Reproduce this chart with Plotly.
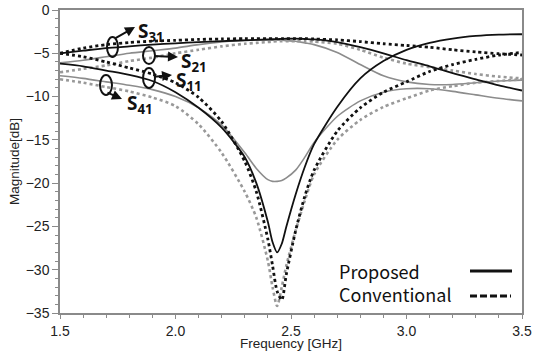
import plotly.graph_objects as go

# ---- data (frequency in GHz, magnitude in dB) ----
freq = [1.5, 1.6, 1.7, 1.8, 1.9, 2.0, 2.1, 2.2, 2.3, 2.35, 2.4, 2.42, 2.44, 2.46, 2.48, 2.52, 2.56,
        2.6, 2.7, 2.8, 2.9, 3.0, 3.1, 3.2, 3.3, 3.4, 3.5]

s11_prop = [-6.2, -6.5, -7.0, -7.5, -8.2, -9.5, -11.3, -13.6, -17.0, -20.0, -24.5, -26.8, -28.0, -27.0,
            -25.0, -21.3, -18.1, -15.5, -11.2, -7.9, -5.9, -4.6, -3.8, -3.3, -3.0, -2.85, -2.8]
s11_conv = [-5.0, -5.4, -6.0, -6.7, -7.4, -8.4, -10.1, -12.9, -17.5, -21.0, -26.5, -29.5, -32.5, -33.5,
            -30.5, -25.5, -21.5, -18.5, -14.0, -11.3, -9.5, -8.3, -7.1, -6.3, -5.7, -5.2, -4.9]
s41_prop = [-7.6, -7.9, -8.3, -8.7, -9.2, -10.0, -11.3, -13.3, -16.5, -18.3, -19.6, -19.8, -19.8, -19.7,
            -19.4, -18.5, -17.0, -15.3, -12.3, -10.5, -9.5, -9.1, -9.1, -9.4, -9.8, -10.2, -10.5]
s41_conv = [-8.0, -8.4, -8.9, -9.4, -10.1, -11.1, -13.2, -16.5, -21.0, -24.0, -29.0, -32.0, -34.2, -32.0,
            -29.5, -25.5, -22.0, -19.0, -15.0, -12.7, -11.2, -10.2, -9.3, -8.8, -8.4, -8.2, -8.0]
s21_prop = [-6.1, -5.8, -5.4, -5.0, -4.7, -4.4, -4.0, -3.7, -3.5, -3.5, -3.5, -3.5, -3.5, -3.5,
            -3.55, -3.6, -3.8, -4.0, -4.9, -6.3, -7.6, -8.3, -8.6, -8.6, -8.4, -8.2, -8.1]
s21_conv = [-7.2, -6.8, -6.4, -5.9, -5.5, -5.0, -4.6, -4.2, -3.9, -3.8, -3.7, -3.65, -3.6, -3.6,
            -3.6, -3.6, -3.6, -3.65, -3.9, -4.6, -5.5, -6.2, -6.6, -7.0, -7.4, -7.7, -7.9]
s31_prop = [-5.0, -4.7, -4.4, -4.2, -4.0, -3.85, -3.7, -3.6, -3.5, -3.45, -3.4, -3.38, -3.36, -3.34,
            -3.32, -3.3, -3.35, -3.4, -3.7, -4.3, -5.0, -5.8, -6.5, -7.3, -8.0, -8.7, -9.3]
s31_conv = [-5.0, -4.4, -4.0, -3.75, -3.6, -3.5, -3.4, -3.35, -3.3, -3.3, -3.3, -3.3, -3.3, -3.3,
            -3.3, -3.3, -3.3, -3.35, -3.45, -3.65, -3.9, -4.1, -4.3, -4.6, -4.85, -5.05, -5.2]

x_ticks = [1.5, 2.0, 2.5, 3.0, 3.5]
x_ticktext = ["1.5", "2.0", "2.5", "3.0", "3.5"]
y_ticks = [0, -5, -10, -15, -20, -25, -30, -35]

BLACK = "#111111"
GREY = "#8c8c8c"

series = [
    (s21_prop, GREY, "solid", 1.6),
    (s41_prop, GREY, "solid", 1.6),
    (s21_conv, "#999999", "dot", 2.6),
    (s41_conv, "#999999", "dot", 2.6),
    (s31_prop, BLACK, "solid", 1.8),
    (s11_prop, BLACK, "solid", 1.8),
    (s31_conv, BLACK, "dot", 2.8),
    (s11_conv, BLACK, "dot", 2.8),
]

fig = go.Figure()
for ys, col, dash, w in series:
    fig.add_trace(go.Scatter(x=freq, y=ys, mode="lines",
                             line=dict(color=col, dash=dash, width=w, shape="spline", smoothing=0.7),
                             showlegend=False, hoverinfo="skip"))

tickfont = dict(family="Liberation Sans, Arial, sans-serif", size=14, color="#222")
fig.update_layout(
    width=533, height=351,
    margin=dict(l=60, r=11, t=10, b=38),
    paper_bgcolor="white", plot_bgcolor="white",
    xaxis=dict(range=[1.5, 3.5], tickvals=x_ticks, ticktext=x_ticktext, automargin=False,
               showgrid=False, zeroline=False, showline=True, linecolor="#8a8a8a", linewidth=1.5,
               mirror=True, ticks="outside", ticklen=4, tickcolor="#8a8a8a",
               minor=dict(ticks="outside", dtick=0.1, ticklen=3, tickcolor="#8a8a8a"),
               tickfont=tickfont,
               title=dict(text="Frequency [GHz]", standoff=3,
                          font=dict(family="Liberation Sans, Arial, sans-serif", size=13.5, color="#222"))),
    yaxis=dict(range=[-35, 0], tickvals=y_ticks, automargin=False,
               showgrid=False, zeroline=False, showline=True, linecolor="#8a8a8a", linewidth=1.5,
               mirror=True, ticks="outside", ticklen=6, tickcolor="#8a8a8a",
               minor=dict(ticks="outside", dtick=1, ticklen=3, tickcolor="#8a8a8a"),
               tickfont=tickfont,
               title=dict(text="Magnitude[dB]", standoff=3,
                          font=dict(family="Liberation Sans, Arial, sans-serif", size=13.5, color="#222"))),
)

# ---- custom legend (paper pixel positions converted to paper fractions) ----
PW, PH = 462.0, 303.0
def px(xp):
    return (xp - 60) / PW
def py(yp):
    return 1 - (yp - 10) / PH

lfont = dict(family="Noto Sans CJK KR, Noto Sans, sans-serif", size=18, color="#111")
fig.add_annotation(x=px(337), y=py(271), xref="paper", yref="paper", text="Proposed",
                   showarrow=False, xanchor="left", yanchor="middle", font=lfont)
fig.add_annotation(x=px(337), y=py(294), xref="paper", yref="paper", text="Conventional",
                   showarrow=False, xanchor="left", yanchor="middle", font=lfont)
fig.add_shape(type="line", xref="paper", yref="paper", x0=px(470), x1=px(512), y0=py(271), y1=py(271),
              line=dict(color=BLACK, width=3))
fig.add_shape(type="line", xref="paper", yref="paper", x0=px(470), x1=px(511), y0=py(296), y1=py(296),
              line=dict(color=BLACK, width=3, dash="7px,3px"))

# ---- S-parameter callouts: ellipses, arrows, labels ----
sfont = dict(family="Noto Sans, sans-serif", size=19, color="#111")
callouts = [
    # ellipse box (x0,y0,x1,y1), arrow tail, arrow head, label pos, label
    ((107, 37, 118, 57), (114, 39), (135, 27), (136, 32), "S<sub>31</sub>"),
    ((143, 47, 155, 64), (153, 56), (178, 57), (179, 62), "S<sub>21</sub>"),
    ((143, 68, 155, 88), (153, 77), (172, 75), (174, 81), "S<sub>11</sub>"),
    ((100, 75, 112, 95), (106, 92), (122, 99), (125, 104), "S<sub>41</sub>"),
]
for (ex0, ey0, ex1, ey1), (tx, ty), (hx, hy), (lx, ly), lab in callouts:
    fig.add_shape(type="circle", xref="paper", yref="paper",
                  x0=px(ex0), x1=px(ex1), y0=py(ey1), y1=py(ey0),
                  line=dict(color=BLACK, width=2))
    fig.add_annotation(x=px(hx), y=py(hy), ax=tx - hx, ay=ty - hy, xref="paper", yref="paper",
                       axref="pixel", ayref="pixel", showarrow=True, arrowhead=2, arrowsize=1,
                       arrowwidth=2, arrowcolor=BLACK, text="")
    fig.add_annotation(x=px(lx), y=py(ly), xref="paper", yref="paper", text="<b>" + lab + "</b>",
                       showarrow=False, xanchor="left", yanchor="middle", font=sfont)

fig.write_html("out.html")
